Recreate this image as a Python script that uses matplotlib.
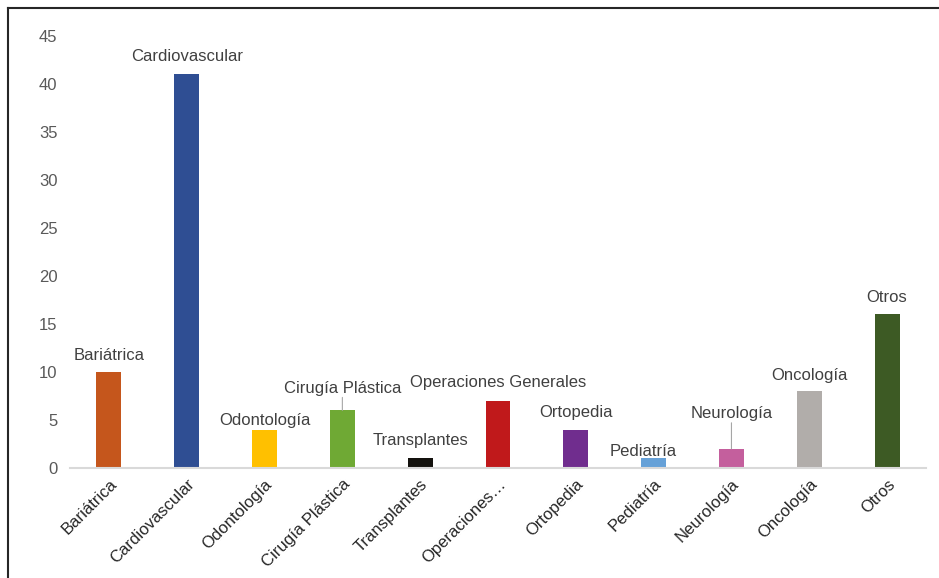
import matplotlib.pyplot as plt
from matplotlib.lines import Line2D

categories = ['Bariátrica', 'Cardiovascular', 'Odontología', 'Cirugía Plástica',
              'Transplantes', 'Operaciones Generales', 'Ortopedia', 'Pediatría',
              'Neurología', 'Oncología', 'Otros']
tick_labels = ['Bariátrica', 'Cardiovascular', 'Odontología', 'Cirugía Plástica',
               'Transplantes', 'Operaciones…', 'Ortopedia', 'Pediatría',
               'Neurología', 'Oncología', 'Otros']
values = [10, 41, 4, 6, 1, 7, 4, 1, 2, 8, 16]
colors = ['#C5561C', '#2F4E93', '#FFC000', '#6FA934', '#14120E', '#C0191B',
          '#702D8E', '#66A1D8', '#C45F9D', '#B1ADAA', '#3D5A24']

# label centre offsets in pixels (dx, dy) and whether a leader line is drawn
label_offsets = [(0, 17), (0, 18), (0, 9), (0, 22), (0, 18), (0, 18),
                 (0, 17), (-10, 7), (0, 35), (0, 16), (0, 17)]
leaders = [False, False, False, True, False, False, False, False, True, False, False]

plt.rcParams['font.family'] = ['Liberation Sans', 'DejaVu Sans']

fig = plt.figure(figsize=(9.39, 5.78), dpi=100)
ax = fig.add_axes([70 / 939, 1 - 468 / 578, 856 / 939, 432 / 578])

x = range(len(categories))
ax.bar(x, values, width=0.32, color=colors, zorder=2)

for i, (v, name) in enumerate(zip(values, categories)):
    dx, dy = label_offsets[i]
    ax.annotate(name, xy=(i, v), xytext=(dx, dy), textcoords='offset pixels',
                ha='center', va='center', fontsize=12, color='#404040')
    if leaders[i]:
        ax.annotate('', xy=(i, v), xytext=(0, dy - 9), textcoords='offset pixels',
                    arrowprops=dict(arrowstyle='-', color='#A6A6A6', lw=0.8,
                                    shrinkA=0, shrinkB=0))

ax.set_xlim(-0.5, len(categories) - 0.5)
ax.set_ylim(0, 45)
ax.set_yticks(range(0, 46, 5))
ax.set_xticks(list(x))
ax.set_xticklabels(tick_labels, rotation=45, ha='right', rotation_mode='anchor',
                   fontsize=12, color='#262626')
ax.tick_params(axis='y', length=0, labelsize=12, labelcolor='#595959', pad=9)
ax.tick_params(axis='x', length=0, pad=6)

for s in ['top', 'right', 'left']:
    ax.spines[s].set_visible(False)
ax.spines['bottom'].set_color('#D9D9D9')
ax.spines['bottom'].set_linewidth(1.5)

# frame lines (top and left)
fig.add_artist(Line2D([8 / 939, 1], [1 - 8 / 578, 1 - 8 / 578], transform=fig.transFigure,
                      color='#262626', lw=1.5))
fig.add_artist(Line2D([8 / 939, 8 / 939], [0, 1 - 8 / 578], transform=fig.transFigure,
                      color='#262626', lw=1.5))

fig.savefig('out.png', dpi=100)
